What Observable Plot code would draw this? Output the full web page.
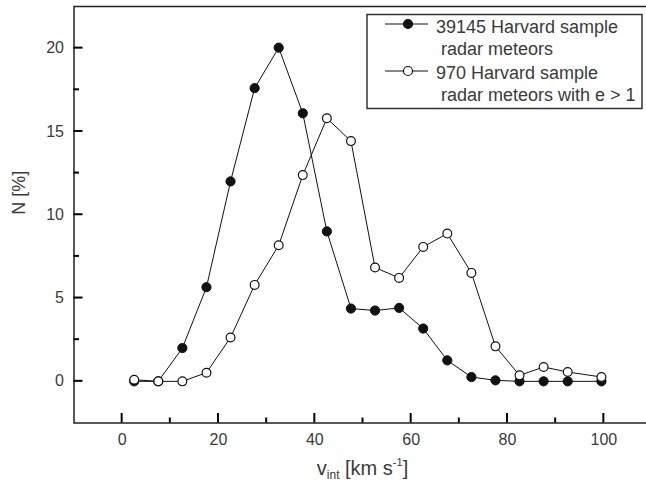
<!DOCTYPE html>
<html><head><meta charset="utf-8">
<script src="https://cdn.jsdelivr.net/npm/d3@7"></script>
<script src="https://cdn.jsdelivr.net/npm/@observablehq/plot@0.6"></script>
<style>
html,body{margin:0;padding:0;overflow:hidden;background:#fff;width:646px;height:482px}
#chart{position:relative;width:646px;height:482px;overflow:hidden}
#chart svg{max-width:none !important;height:482px !important;display:block}
</style>
</head><body><div id="chart"></div>
<script>
// Interplanetary velocity bins (km/s)
const vint = [2.5,7.5,12.5,17.5,22.5,27.5,32.5,37.5,42.5,47.5,52.5,57.5,62.5,67.5,72.5,77.5,82.5,87.5,92.5,99.5];
// N [%] : all 39145 Harvard radar meteors
const allMeteors = [0,0,2.0,5.65,12.0,17.6,20.03,16.09,9.0,4.37,4.25,4.41,3.17,1.26,0.26,0.06,0,0,0,0];
// N [%] : 970 meteors with e > 1
const hyperbolic = [0.1,0,0,0.52,2.63,5.79,8.17,12.38,15.79,14.42,6.83,6.21,8.07,8.87,6.51,2.10,0.36,0.86,0.56,0.26];
const legendLines = [["39145 Harvard sample", "radar meteors"], ["970 Harvard sample", "radar meteors with e > 1"]];
const xMajor = [0,20,40,60,80,100];
const xMinor = [10,30,50,70,90];
const yMajor = [0,5,10,15,20];
const yMinor = [2.5,7.5,12.5,17.5];
const yTitle = "N [%]";

const d1 = vint.map((v,i)=>({v, n: allMeteors[i]}));
const d2 = vint.map((v,i)=>({v, n: hyperbolic[i]}));

const FONT = "Liberation Sans, Arial, Helvetica, sans-serif";
const W = 652, H = 482, ML = 73.5, MR = 0.5, MT = 6, MB = 59.5;
const plot = Plot.plot({
  width: W, height: H,
  marginLeft: ML, marginRight: MR, marginTop: MT, marginBottom: MB,
  x: {domain: [-10, 110]},
  y: {domain: [-2.5, 22.5]},
  style: {fontFamily: FONT, fontSize: "16px", color: "#3a3a3a", background: "white", maxWidth: "none", overflow: "hidden"},
  marks: [
    Plot.frame({stroke: "#222", strokeWidth: 1.5}),
    Plot.axisX({ticks: xMajor, tickSize: 0, tickPadding: 11, label: null}),
    Plot.axisY({ticks: yMajor, tickSize: 0, tickPadding: 10, label: null}),
    Plot.text([yTitle], {frameAnchor: "left", rotate: -90, dx: -55, fontSize: 18, fill: "#3a3a3a"}),
    Plot.line(d1, {x: "v", y: "n", stroke: "#111", strokeWidth: 1}),
    Plot.dot(d1, {x: "v", y: "n", r: 4.6, fill: "#111", stroke: "#111", strokeWidth: 1}),
    Plot.line(d2, {x: "v", y: "n", stroke: "#111", strokeWidth: 1}),
    Plot.dot(d2, {x: "v", y: "n", r: 4.4, fill: "white", stroke: "#111", strokeWidth: 1.2})
  ]
});
document.getElementById("chart").appendChild(plot);

const svg = d3.select(plot);
const xs = plot.scale("x"), ys = plot.scale("y");
const xr = xs.range, yr = ys.range;
const yBottom = Math.max(...yr), xLeft = Math.min(...xr);

// inward tick marks placed with the Plot scales
const tk = svg.append("g").attr("stroke", "#000").attr("stroke-width", 2).attr("fill", "none");
xMajor.forEach(v => tk.append("line").attr("x1", xs.apply(v)).attr("x2", xs.apply(v)).attr("y1", yBottom).attr("y2", yBottom - 9.5));
xMinor.forEach(v => tk.append("line").attr("x1", xs.apply(v)).attr("x2", xs.apply(v)).attr("y1", yBottom).attr("y2", yBottom - 5));
yMajor.forEach(v => tk.append("line").attr("y1", ys.apply(v)).attr("y2", ys.apply(v)).attr("x1", xLeft).attr("x2", xLeft + 9));
yMinor.forEach(v => tk.append("line").attr("y1", ys.apply(v)).attr("y2", ys.apply(v)).attr("x1", xLeft).attr("x2", xLeft + 5.5));

// x-axis title with subscript / superscript
const t = svg.append("text")
  .attr("x", (xr[0] + xr[1]) / 2).attr("y", 475)
  .attr("text-anchor", "middle")
  .attr("font-family", FONT).attr("font-size", 20).attr("fill", "#3a3a3a");
t.append("tspan").text("v");
t.append("tspan").attr("font-size", 12).attr("dy", 4).text("int");
t.append("tspan").attr("dy", -4).text(" [km s");
t.append("tspan").attr("font-size", 11).attr("dy", -9).text("-1");
t.append("tspan").attr("dy", 9).text("]");

// legend
const lg = svg.append("g").attr("font-family", FONT).attr("font-size", 18).attr("fill", "#3a3a3a")
  .attr("text-anchor", "start");
lg.append("rect").attr("x", 367).attr("y", 14.5).attr("width", 275).attr("height", 94)
  .attr("fill", "white").attr("stroke", "#333").attr("stroke-width", 1.5);
const rows = [{my: 24, fill: "#111", b: [33, 55]}, {my: 71, fill: "white", b: [79, 101]}];
rows.forEach((r, i) => {
  lg.append("line").attr("x1", 385).attr("x2", 428).attr("y1", r.my).attr("y2", r.my).attr("stroke", "#111");
  lg.append("circle").attr("cx", 408).attr("cy", r.my).attr("r", 4.5).attr("fill", r.fill).attr("stroke", "#111").attr("stroke-width", 1.2);
  lg.append("text").attr("x", 436).attr("y", r.b[0]).attr("text-anchor", "start").text(legendLines[i][0]);
  lg.append("text").attr("x", 441).attr("y", r.b[1]).attr("text-anchor", "start").text(legendLines[i][1]);
});
</script>
</body></html>
